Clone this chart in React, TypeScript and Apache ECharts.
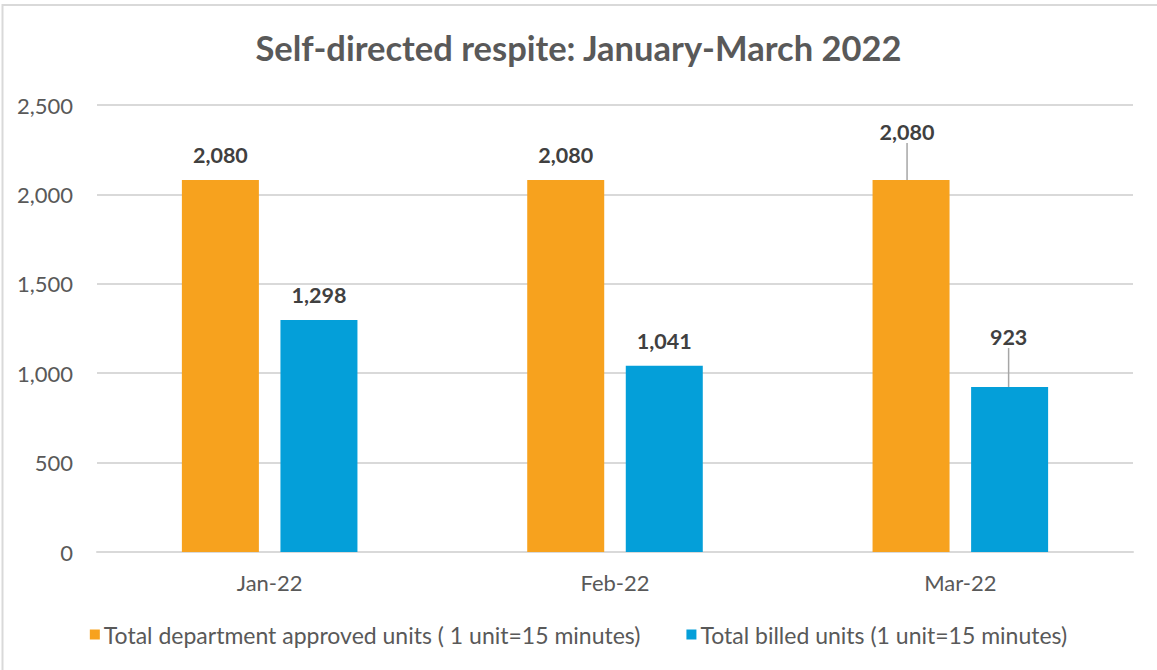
import React, { useEffect, useRef } from "react";
import * as echarts from "echarts";

const categories = ["Jan-22", "Feb-22", "Mar-22"];
const approvedUnits = [2080, 2080, 2080];
const billedUnits = [1298, 1041, 923];
const seriesNames = [
  "Total department approved units ( 1 unit=15 minutes)",
  "Total billed units (1 unit=15 minutes)",
];
const yTicks = { min: 0, max: 2500, interval: 500 };
const titleText = "Self-directed respite: January-March 2022";

const FONT = "Lato, 'Open Sans', sans-serif";

export default function App() {
  const ref = useRef<HTMLDivElement>(null);
  useEffect(() => {
    if (!ref.current) return;
    const chart = echarts.init(ref.current, null, { renderer: "svg" });
    const labelStyle = {
      show: true,
      position: "top",
      distance: 14,
      fontFamily: FONT,
      fontWeight: "bold",
      fontSize: 21.5,
      color: "#404040",
      formatter: (p: any) => Number(p.value).toLocaleString("en-US"),
    };
    const withLine = (vals: number[], idx: number) =>
      vals.map((v, i) =>
        i === idx
          ? { value: v, labelLine: { show: true, lineStyle: { color: "#A6A6A6", width: 1.5 } } }
          : v
      );
    chart.setOption({
      animation: false,
      backgroundColor: "#ffffff",
      title: {
        text: titleText,
        left: "center",
        top: 25,
        textStyle: { fontFamily: FONT, fontSize: 34.5, fontWeight: "bold", color: "#595959" },
      },
      grid: { left: 97, right: 24, top: 105, bottom: 118, containLabel: false },
      legend: {
        bottom: 19,
        left: "center",
        itemWidth: 10,
        itemHeight: 10,
        itemGap: 46,
        icon: "rect",
        textStyle: { fontFamily: FONT, fontSize: 23, color: "#595959", padding: [0, 0, 0, -1] },
        data: seriesNames,
      },
      xAxis: {
        type: "category",
        data: categories,
        axisLine: { lineStyle: { color: "#D9D9D9", width: 2 } },
        axisTick: { show: false },
        axisLabel: { fontFamily: FONT, fontSize: 22, color: "#595959", margin: 19 },
      },
      yAxis: {
        type: "value",
        min: yTicks.min,
        max: yTicks.max,
        interval: yTicks.interval,
        axisLine: { show: false },
        axisTick: { show: false },
        splitLine: { lineStyle: { color: "#D9D9D9", width: 2 } },
        axisLabel: {
          fontFamily: FONT,
          fontSize: 22,
          color: "#595959",
          margin: 24,
          formatter: (v: number) => v.toLocaleString("en-US"),
        },
      },
      series: [
        {
          name: seriesNames[0],
          type: "bar",
          data: withLine(approvedUnits, 2),
          barWidth: 77,
          barGap: "28%",
          itemStyle: { color: "#F7A21E" },
          label: labelStyle,
          labelLayout: (p: any) => (p.dataIndex === 2 ? { dx: -4, dy: -23 } : {}),
        },
        {
          name: seriesNames[1],
          type: "bar",
          data: withLine(billedUnits, 2),
          barWidth: 77,
          itemStyle: { color: "#049FD9" },
          label: labelStyle,
          labelLayout: (p: any) => (p.dataIndex === 2 ? { dx: -1, dy: -25 } : {}),
        },
      ],
      graphic: [
        { type: "line", shape: { x1: 2, y1: 5, x2: 1157, y2: 5 }, style: { stroke: "#D9D9D9", lineWidth: 2 } },
        { type: "line", shape: { x1: 2.5, y1: 4, x2: 2.5, y2: 670 }, style: { stroke: "#D9D9D9", lineWidth: 2 } },
      ],
    });
    return () => chart.dispose();
  }, []);
  return (
    <div
      ref={ref}
      style={{ position: "fixed", left: 0, top: 0, width: 1157, height: 670 }}
    />
  );
}
